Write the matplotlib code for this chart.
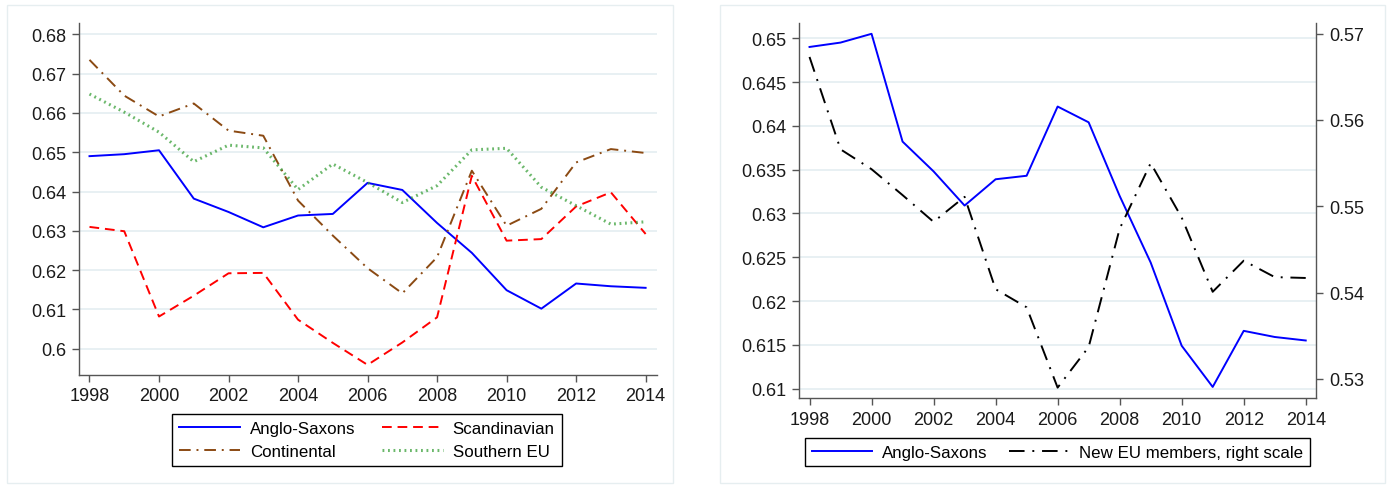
import matplotlib.pyplot as plt
from matplotlib.patches import Rectangle
import numpy as np

plt.rcParams['font.family'] = ['Liberation Sans', 'DejaVu Sans']

# ------------------------------ data ------------------------------
years = np.arange(1998, 2015)

anglo = [0.6490, 0.6495, 0.6505, 0.6382, 0.6348, 0.6309, 0.6339, 0.6343, 0.6422,
         0.6404, 0.6320, 0.6244, 0.6149, 0.6102, 0.6166, 0.6159, 0.6155]
scandinavian = [0.6310, 0.6299, 0.6082, 0.6135, 0.6192, 0.6193, 0.6074, 0.6015, 0.5959,
                0.6016, 0.6080, 0.6440, 0.6275, 0.6279, 0.6362, 0.6398, 0.6292]
continental = [0.6735, 0.6644, 0.6591, 0.6624, 0.6555, 0.6542, 0.6377, 0.6288, 0.6205,
               0.6141, 0.6233, 0.6453, 0.6313, 0.6356, 0.6474, 0.6508, 0.6498]
southern = [0.6648, 0.6602, 0.6551, 0.6476, 0.6518, 0.6511, 0.6405, 0.6470, 0.6423,
            0.6372, 0.6415, 0.6506, 0.6510, 0.6411, 0.6364, 0.6317, 0.6323]
new_eu = [0.5673, 0.5566, 0.5543, 0.5513, 0.5482, 0.5511, 0.5404, 0.5383, 0.5290,
          0.5337, 0.5474, 0.5550, 0.5487, 0.5401, 0.5437, 0.5418, 0.5417]

xticks = np.arange(1998, 2015, 2)
left_yticks = [0.60, 0.61, 0.62, 0.63, 0.64, 0.65, 0.66, 0.67, 0.68]
right_yticks = [0.61, 0.615, 0.62, 0.625, 0.63, 0.635, 0.64, 0.645, 0.65]
right2_yticks = [0.53, 0.54, 0.55, 0.56, 0.57]

# ------------------------------ styling helpers ------------------------------
FS = 13
LFS = 12.2
GRID = '#e4eef1'
SPINE = '#555555'


def tick_label(v):
    s = f'{v:.3f}'.rstrip('0')
    return s


def style_axis(ax, yticks, sides=('left', 'bottom')):
    for s in ['left', 'right', 'top', 'bottom']:
        ax.spines[s].set_visible(s in sides)
        ax.spines[s].set_color(SPINE)
        ax.spines[s].set_linewidth(1.0)
    ax.set_xticks(xticks)
    ax.set_xticklabels([str(x) for x in xticks])
    ax.set_yticks(yticks)
    ax.set_yticklabels([tick_label(v) for v in yticks])
    ax.tick_params(axis='both', labelsize=FS, direction='out', length=5,
                   width=1.0, color=SPINE, labelcolor='#1a1a1a', pad=4)


fig = plt.figure(figsize=(13.92, 4.89), dpi=100)

# light outer frames around each panel
fig.patches.append(Rectangle((7 / 1392, 1 - 484 / 489), 666 / 1392, 478 / 489,
                             transform=fig.transFigure, fill=False,
                             edgecolor='#e6eef0', linewidth=1.0))
fig.patches.append(Rectangle((720 / 1392, 1 - 484 / 489), 665 / 1392, 478 / 489,
                             transform=fig.transFigure, fill=False,
                             edgecolor='#e6eef0', linewidth=1.0))

# ------------------------------ left panel ------------------------------
ax1 = fig.add_axes([0.0568, 0.2317, 0.4150, 0.7186])
for v in left_yticks:
    ax1.axhline(v, color=GRID, lw=1.2, zorder=0)
l1, = ax1.plot(years, anglo, color='#0000ff', lw=1.4, label='Anglo-Saxons')
l2, = ax1.plot(years, scandinavian, color='#ff0000', lw=1.4,
               dashes=(5, 3), label='Scandinavian')
l3, = ax1.plot(years, continental, color='#8b4a13', lw=1.4,
               dashes=(6, 3, 1, 3), label='Continental')
l4, = ax1.plot(years, southern, color='#3aa03a', lw=2.2,
               dashes=(0.6, 1.2), alpha=0.75, label='Southern EU')
ax1.set_xlim(1997.70, 2014.32)
ax1.set_ylim(0.5934, 0.6828)
style_axis(ax1, left_yticks)

# legend columns are filled top-down: Anglo-Saxons/Continental, then Scandinavian/Southern EU
fig.legend(handles=[l1, l3, l2, l4], ncol=2, loc='center',
           bbox_to_anchor=(0.2637, 0.0982), fontsize=LFS, frameon=True,
           fancybox=False, edgecolor='black', framealpha=1,
           handlelength=3.55, columnspacing=1.6, borderpad=0.42,
           labelspacing=0.42, handletextpad=0.6)

# ------------------------------ right panel ------------------------------
ax2 = fig.add_axes([0.5742, 0.1834, 0.3714, 0.7669])
for v in right_yticks:
    ax2.axhline(v, color=GRID, lw=1.2, zorder=0)
r1, = ax2.plot(years, anglo, color='#0000ff', lw=1.4, label='Anglo-Saxons')
ax2.set_xlim(1997.67, 2014.34)
ax2.set_ylim(0.6089, 0.6517)
style_axis(ax2, right_yticks)

ax3 = ax2.twinx()
r2, = ax3.plot(years, new_eu, color='black', lw=1.4, dashes=(8, 4, 1, 4),
               label='New EU members, right scale')
ax3.set_ylim(0.52776, 0.5712)
style_axis(ax3, right2_yticks, sides=('right',))
ax3.set_xlim(1997.67, 2014.34)

fig.legend(handles=[r1, r2], ncol=2, loc='center',
           bbox_to_anchor=(0.7596, 0.0736), fontsize=LFS, frameon=True,
           fancybox=False, edgecolor='black', framealpha=1,
           handlelength=3.55, columnspacing=1.25, borderpad=0.4,
           handletextpad=0.6)

fig.savefig('out.png', dpi=100)
